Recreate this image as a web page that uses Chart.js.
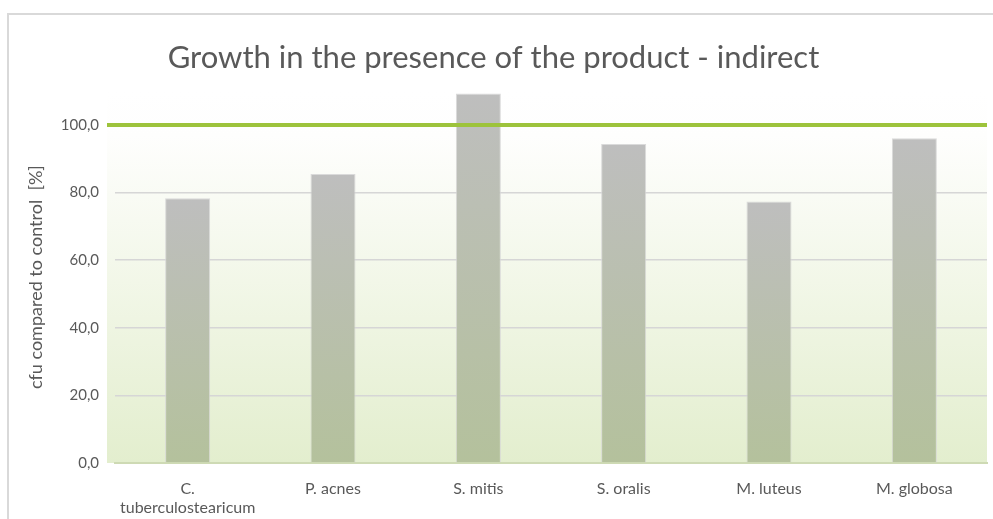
<!DOCTYPE html>
<html>
<head>
<meta charset="utf-8">
<script src="https://cdn.jsdelivr.net/npm/chart.js@4/dist/chart.umd.min.js"></script>
<style>
  html, body { margin: 0; padding: 0; background: #fff; overflow: hidden; }
  #frame { position: absolute; left: 7px; top: 13px; width: 1000px; height: 520px; border: 2px solid #D9D9D9; box-sizing: border-box; }
  #wrap { position: absolute; left: 0; top: 0; width: 993px; height: 519px; }
</style>
</head>
<body>
<div id="frame"></div>
<div id="wrap"><canvas id="growthChart"></canvas></div>
<script>
const categories = [['C.', 'tuberculostearicum'], 'P. acnes', 'S. mitis', 'S. oralis', 'M. luteus', 'M. globosa'];
const growthValues = [78.3, 85.5, 109.3, 94.4, 77.4, 96.1];
const yTicks = [0, 20, 40, 60, 80, 100];
const controlLevel = 100;

Chart.defaults.font.family = 'Lato, "Open Sans", sans-serif';
Chart.defaults.color = '#595959';

const plotBackground = {
  id: 'plotBackground',
  beforeDraw(chart) {
    const { ctx, chartArea: a } = chart;
    const g = ctx.createLinearGradient(0, a.top, 0, a.bottom);
    g.addColorStop(0, '#FFFFFF');
    g.addColorStop(0.12, '#FEFEFD');
    g.addColorStop(1, '#E3EECE');
    ctx.save();
    ctx.fillStyle = g;
    ctx.fillRect(a.left - 8, a.top, a.right - a.left + 8, a.bottom - a.top);
    ctx.restore();
  }
};

const controlLine = {
  id: 'controlLine',
  afterDatasetsDraw(chart) {
    const { ctx, chartArea: a, scales } = chart;
    const y = scales.y.getPixelForValue(controlLevel);
    ctx.save();
    ctx.strokeStyle = '#9DC33B';
    ctx.lineWidth = 4;
    ctx.beginPath();
    ctx.moveTo(a.left - 8, y);
    ctx.lineTo(a.right, y);
    ctx.stroke();
    ctx.restore();
  }
};

function barGradient(context) {
  const chart = context.chart;
  const a = chart.chartArea;
  if (!a || context.dataIndex === undefined) return '#BDBDBD';
  const y = chart.scales.y;
  const top = y.getPixelForValue(growthValues[context.dataIndex]);
  const bottom = y.getPixelForValue(0);
  const g = chart.ctx.createLinearGradient(0, top, 0, bottom);
  g.addColorStop(0, '#BEBEBE');
  g.addColorStop(1, '#B4C19C');
  return g;
}

new Chart(document.getElementById('growthChart'), {
  type: 'bar',
  data: {
    labels: categories,
    datasets: [{
      label: 'cfu',
      data: growthValues,
      backgroundColor: barGradient,
      borderColor: 'rgba(214,214,214,0.9)',
      borderWidth: 1,
      borderSkipped: 'bottom',
      barPercentage: 0.31,
      categoryPercentage: 1
    }]
  },
  options: {
    responsive: true,
    maintainAspectRatio: false,
    animation: false,
    layout: { padding: { left: 0, right: 6, top: 0, bottom: 0 } },
    plugins: {
      legend: { display: false },
      tooltip: { enabled: false },
      title: {
        display: true,
        text: 'Growth in the presence of the product - indirect',
        color: '#595959',
        font: { size: 31, weight: 'normal' },
        padding: { top: 39, bottom: 15 }
      }
    },
    scales: {
      x: {
        grid: { display: false, drawTicks: false },
        border: { display: true, color: '#CEDAB4', width: 2 },
        ticks: { padding: 16, font: { size: 16 }, color: '#595959', maxRotation: 0, autoSkip: false },
        afterFit(scale) { scale.height = 56; }
      },
      y: {
        min: 0,
        max: 110,
        afterBuildTicks(scale) { scale.ticks = yTicks.map(v => ({ value: v })); },
        grid: { color: '#D6D6D6', lineWidth: 1.5, drawTicks: false },
        border: { display: false },
        ticks: {
          padding: 16,
          font: { size: 15 },
          color: '#595959',
          callback: v => v.toFixed(1).replace('.', ',')
        },
        title: {
          display: true,
          text: 'cfu compared to control  [%]',
          color: '#595959',
          font: { size: 18 },
          padding: { top: 25, bottom: 0 }
        },
        afterFit(scale) { scale.width = 115; }
      }
    }
  },
  plugins: [plotBackground, controlLine]
});
</script>
</body>
</html>
